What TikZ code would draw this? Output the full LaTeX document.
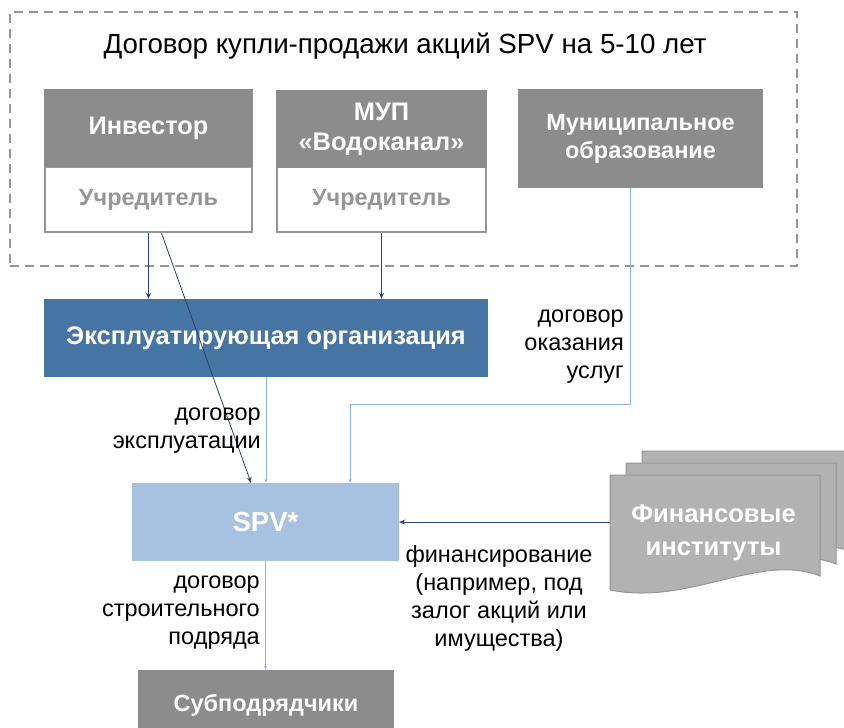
\documentclass[tikz,border=0pt]{standalone}
\usepackage{fontspec}
\setmainfont{Liberation Sans}
\usetikzlibrary{arrows.meta}
\definecolor{boxgray}{RGB}{140,140,140}
\definecolor{rimgray}{RGB}{150,150,150}
\definecolor{fingray}{RGB}{178,178,178}
\definecolor{explblue}{RGB}{70,116,163}
\definecolor{spvblue}{RGB}{167,193,224}
\definecolor{darkline}{RGB}{40,68,105}
\definecolor{lightline}{RGB}{142,180,227}
\tikzset{
  box/.style={rectangle, inner sep=0pt, align=center, text=white,
    font=\bfseries\fontsize{25.4}{30}\selectfont},
  smallbox/.style={font=\bfseries\fontsize{23.5}{28}\selectfont},
  graybox/.style={box, fill=boxgray},
  founder/.style={box, smallbox, fill=white, draw=rimgray, line width=2.5pt, text=rimgray},
  lbl/.style={inner sep=0pt, font=\fontsize{23.5}{28}\selectfont},
  darkarrow/.style={darkline, line width=0.8pt, -{Stealth[length=6pt,width=5pt]}},
  lightarrow/.style={lightline, line width=0.8pt, -{Stealth[length=4pt,width=3pt]}}
}
\begin{document}
\begin{tikzpicture}[x=1pt,y=-1pt]
  \useasboundingbox (0,0) rectangle (844,728);
  \node[draw=rimgray, dash pattern=on 9pt off 6pt, line width=1.5pt, minimum width=787pt, minimum height=254pt] (frame) at (403.5,139) {};
  \node[lbl, font=\fontsize{27.7}{30}\selectfont] (title) at (405,46) {Договор купли-продажи акций SPV на 5-10 лет};
  \node[founder, minimum width=207pt, minimum height=65pt] (invf) at (148.5,199.5) {Учредитель};
  \node[graybox, minimum width=209.5pt, minimum height=78pt] (inv) at (148.5,128) {Инвестор};
  \node[founder, minimum width=209pt, minimum height=65pt] (mupf) at (381.5,199.5) {Учредитель};
  \node[graybox, minimum width=211.5pt, minimum height=78pt] (mup) at (381.5,129) {МУП\\«Водоканал»};
  \node[graybox, smallbox, minimum width=245pt, minimum height=99pt] (mun) at (640.5,138.5) {Муниципальное\\образование};
  \node[box, fill=explblue, minimum width=444pt, minimum height=78pt] (expl) at (266,338) {Эксплуатирующая организация};
  \node[box, fill=spvblue, minimum width=267pt, minimum height=78pt, font=\bfseries\fontsize{27.5}{30}\selectfont] (spv) at (265.5,522) {SPV*};
  \node[graybox, smallbox, minimum width=256pt, minimum height=70pt] (sub) at (266,705) {Субподрядчики};
  \foreach \d in {32,16,0}
    \draw[fill=fingray, draw=rimgray, line width=1pt, xshift=\d pt, yshift=\d*0.75pt]
      (610,475) -- (820,475) -- (820,576) .. controls (760,552) and (690,606) .. (610,590) -- cycle;
  \node[box, font=\bfseries\fontsize{25.6}{33}\selectfont] (fin) at (713.5,533) {Финансовые\\институты};
  \coordinate (finw) at (610,522);
  \coordinate (bend) at (350,404);
  \draw[darkarrow] (invf.south) -- (invf.south |- expl.north);
  \draw[darkarrow] (mupf.south) -- (mupf.south |- expl.north);
  \draw[darkarrow] ([xshift=13pt]invf.south) -- ([xshift=-14.5pt]spv.north);
  \draw[lightarrow] ([xshift=-10.5pt]mun.south) |- (bend) -- (bend |- spv.north);
  \draw[lightarrow] (expl.south) -- (expl.south |- spv.north);
  \draw[darkarrow] (finw) -- (spv.east);
  \draw[lightarrow] (spv.south) -- (spv.south |- sub.north);
  \node[lbl, anchor=east, align=right] (svc) at (624,347) {договор\\оказания\\услуг};
  \node[lbl, anchor=east, align=right] (oper) at (261,430.5) {договор\\эксплуатации};
  \node[lbl, anchor=east, align=right] (build) at (260,612.5) {договор\\строительного\\подряда};
  \node[lbl, align=center] (fund) at (499,598.5) {финансирование\\(например, под\\залог акций или\\имущества)};
\end{tikzpicture}
\end{document}
